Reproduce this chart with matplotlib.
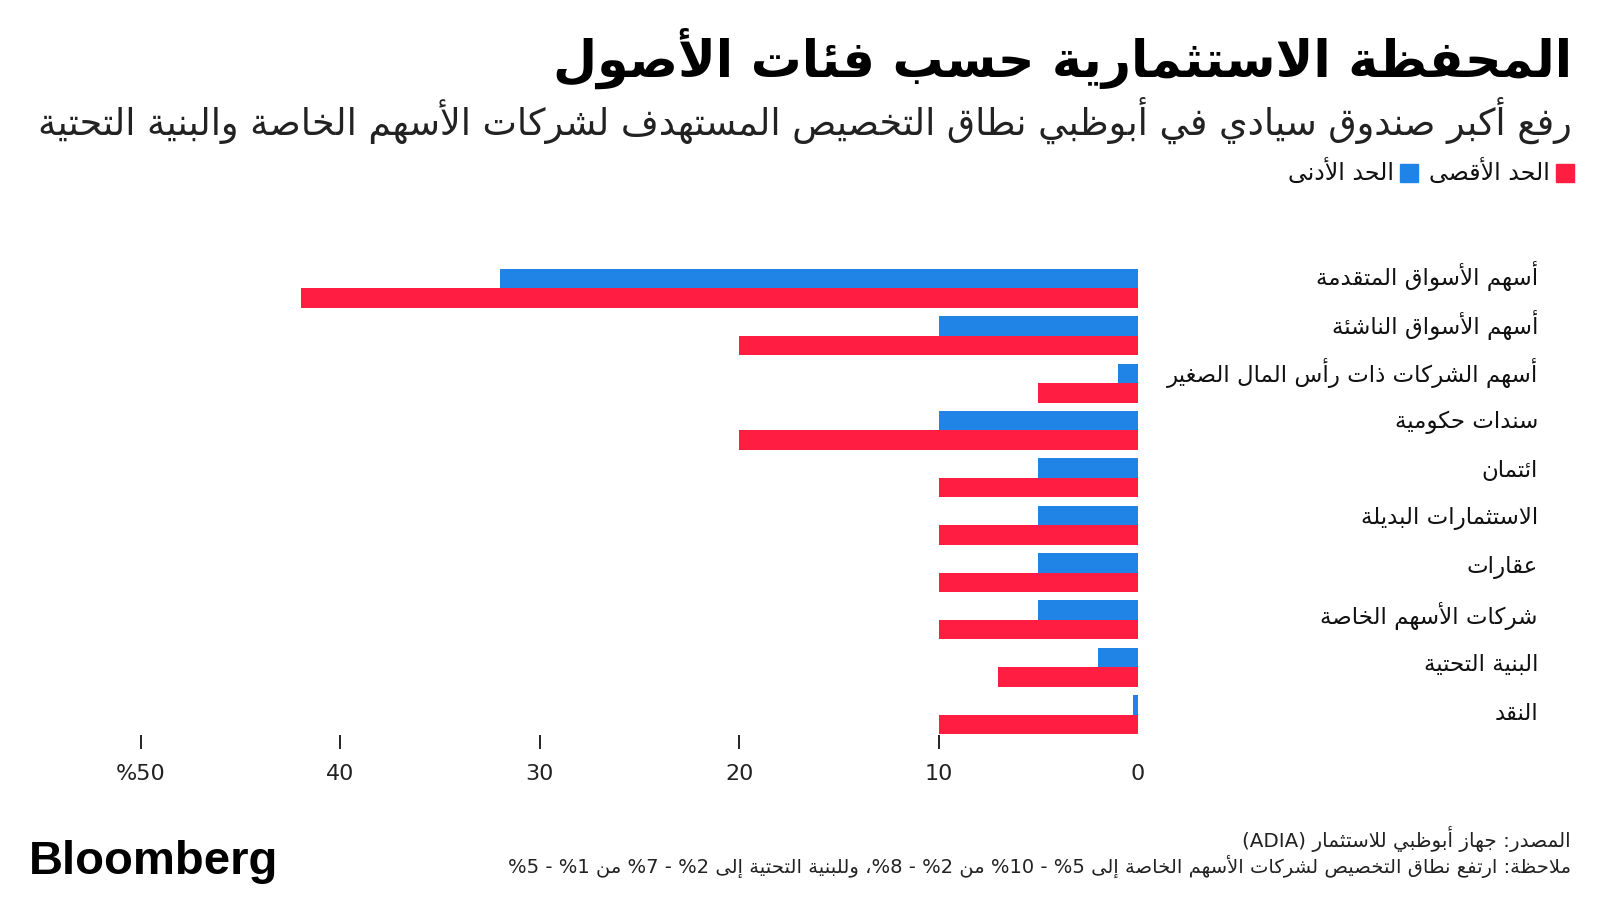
import re
import matplotlib
matplotlib.use("Agg")
import matplotlib.pyplot as plt
import numpy as np
from matplotlib.patches import Rectangle

TITLE = "المحفظة الاستثمارية حسب فئات الأصول"
SUBTITLE = "رفع أكبر صندوق سيادي في أبوظبي نطاق التخصيص المستهدف لشركات الأسهم الخاصة والبنية التحتية"
SOURCE = "المصدر: جهاز أبوظبي للاستثمار (ADIA)"
NOTE = "ملاحظة: ارتفع نطاق التخصيص لشركات الأسهم الخاصة إلى %5 - %10 من %2 - %8، وللبنية التحتية إلى %2 - %7 من %1 - %5"

categories = [
    "أسهم الأسواق المتقدمة",
    "أسهم الأسواق الناشئة",
    "أسهم الشركات ذات رأس المال الصغير",
    "سندات حكومية",
    "ائتمان",
    "الاستثمارات البديلة",
    "عقارات",
    "شركات الأسهم الخاصة",
    "البنية التحتية",
    "النقد",
]
min_vals = [32, 10, 1, 10, 5, 5, 5, 5, 2, 0.25]
max_vals = [42, 20, 5, 20, 10, 10, 10, 10, 7, 10]
series_names = ["الحد الأقصى", "الحد الأدنى"]
x_ticks = [0, 10, 20, 30, 40, 50]
x_ticklabels = ["0", "10", "20", "30", "40", "%50"]

RED = "#FF1E42"
BLUE = "#1F84E6"

# --- minimal arabic shaping (presentation forms) + rtl word order ---
_AR = {'ء': (0xFE80, 1), 'آ': (0xFE81, 2), 'أ': (0xFE83, 2), 'ؤ': (0xFE85, 2),
       'إ': (0xFE87, 2), 'ئ': (0xFE89, 4), 'ا': (0xFE8D, 2), 'ب': (0xFE8F, 4),
       'ة': (0xFE93, 2), 'ت': (0xFE95, 4), 'ث': (0xFE99, 4), 'ج': (0xFE9D, 4),
       'ح': (0xFEA1, 4), 'خ': (0xFEA5, 4), 'د': (0xFEA9, 2), 'ذ': (0xFEAB, 2),
       'ر': (0xFEAD, 2), 'ز': (0xFEAF, 2), 'س': (0xFEB1, 4), 'ش': (0xFEB5, 4),
       'ص': (0xFEB9, 4), 'ض': (0xFEBD, 4), 'ط': (0xFEC1, 4), 'ظ': (0xFEC5, 4),
       'ع': (0xFEC9, 4), 'غ': (0xFECD, 4), 'ف': (0xFED1, 4), 'ق': (0xFED5, 4),
       'ك': (0xFED9, 4), 'ل': (0xFEDD, 4), 'م': (0xFEE1, 4), 'ن': (0xFEE5, 4),
       'ه': (0xFEE9, 4), 'و': (0xFEED, 2), 'ى': (0xFEEF, 2), 'ي': (0xFEF1, 4)}
_LAMALEF = {'آ': 0xFEF5, 'أ': 0xFEF7, 'إ': 0xFEF9, 'ا': 0xFEFB}


def shape(word):
    units = []
    i = 0
    while i < len(word):
        c = word[i]
        if c == 'ل' and i + 1 < len(word) and word[i + 1] in _LAMALEF:
            units.append((_LAMALEF[word[i + 1]], 2))
            i += 2
            continue
        units.append(_AR.get(c, (c, 0)))
        i += 1
    out = []
    for k, (b, n) in enumerate(units):
        if n == 0:
            out.append(b)
            continue
        jp = k > 0 and units[k - 1][1] == 4 and n >= 2
        jn = k + 1 < len(units) and n == 4 and units[k + 1][1] >= 2
        idx = {(False, False): 0, (True, False): 1, (False, True): 2, (True, True): 3}[(jp, jn)]
        out.append(chr(b + min(idx, n - 1)))
    return "".join(out)


def rtl(text):
    words = []
    for tok in text.split(" ")[::-1]:
        runs = re.findall(r"[\u0600-\u06FF]+|[^\u0600-\u06FF]+", tok)
        parts = []
        for r in runs[::-1]:
            if re.match(r"[\u0600-\u06FF]", r):
                parts.append(shape(r)[::-1])
            else:
                parts.append(r)
        words.append("".join(parts))
    return " ".join(words)


plt.rcParams['font.family'] = ['DejaVu Sans']

fig = plt.figure(figsize=(16, 9), dpi=100)
ax = fig.add_axes([141 / 1600, 1 - 735 / 900, (1138 - 141) / 1600, (735 - 268) / 900])

y = np.arange(len(categories))
h = 0.41
ax.barh(y - h / 2, min_vals, height=h, color=BLUE, linewidth=0)
ax.barh(y + h / 2, max_vals, height=h, color=RED, linewidth=0)

ax.set_xlim(50, 0)
ax.set_ylim(len(categories) - 1 + h + 0.02, -h - 0.02)
ax.set_xticks(x_ticks)
ax.set_xticklabels(x_ticklabels, fontsize=16, color="#222222")
ax.tick_params(axis="x", length=10, width=1.4, color="#222222", pad=11)
ax.xaxis.get_major_ticks()[0].tick1line.set_visible(False)
ax.set_yticks([])
for s in ax.spines.values():
    s.set_visible(False)

for yi, cat in zip(y, categories):
    fig.text(1538 / 1600, 1 - (276 + yi * 48.6) / 900, rtl(cat), ha="right", va="center",
             fontsize=16.5, color="#111111")

fig.text(1572 / 1600, 1 - 58 / 900, rtl(TITLE), ha="right", va="center",
         fontsize=36.5, fontweight="bold", color="#000000")
fig.text(1572 / 1600, 1 - 120 / 900, rtl(SUBTITLE), ha="right", va="center",
         fontsize=26.3, color="#222222")

# legend
fig.patches.append(Rectangle((1556 / 1600, 1 - 182 / 900), 18 / 1600, 18 / 900,
                             transform=fig.transFigure, color=RED))
fig.text(1550 / 1600, 1 - 172 / 900, rtl(series_names[0]), ha="right", va="center",
         fontsize=17, color="#111111")
fig.patches.append(Rectangle((1400 / 1600, 1 - 182 / 900), 18 / 1600, 18 / 900,
                             transform=fig.transFigure, color=BLUE))
fig.text(1394 / 1600, 1 - 172 / 900, rtl(series_names[1]), ha="right", va="center",
         fontsize=17, color="#111111")

fig.text(1571 / 1600, 1 - 839 / 900, rtl(SOURCE), ha="right", va="center",
         fontsize=14.3, color="#222222")
fig.text(1571 / 1600, 1 - 866 / 900, rtl(NOTE), ha="right", va="center",
         fontsize=14, color="#222222")

fig.text(29 / 1600, 1 - 862 / 900, "Bloomberg", ha="left", va="center",
         fontsize=34, fontweight="bold", family="Liberation Sans", color="#000000")

fig.savefig("out.png", dpi=100, facecolor="white")
